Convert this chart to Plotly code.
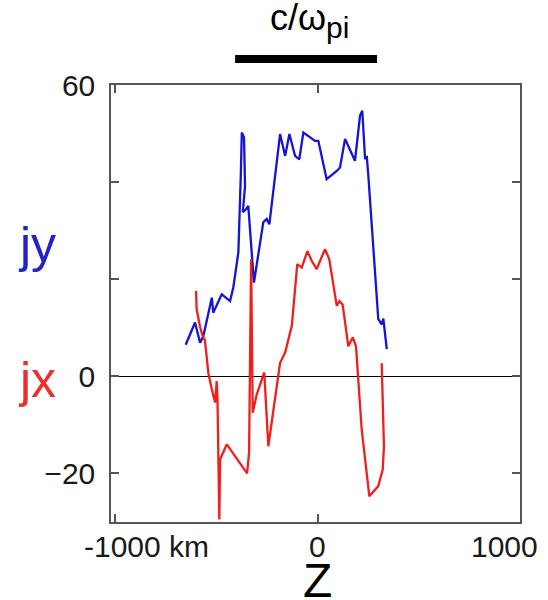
import plotly.graph_objects as go

# Current density profiles across the sheet, position Z in km
z_jy = [-651, -605, -580, -564, -522, -515, -473, -432, -416, -391, -379, -374,
        -363, -358, -369, -353, -342, -314, -268, -251, -238, -185, -160, -139,
        -111, -90, -70, -12, 4, 45, 95, 111, 136, 185, 210, 221, 235, 243, 251,
        300, 317, 325, 342]
jy = [6.5, 11.1, 6.9, 8.3, 16.2, 13.1, 16.9, 15.5, 18.3, 25.5, 41.3, 50.2,
      49.2, 39.2, 33.8, 34.4, 35.1, 19.3, 31.7, 32.4, 31.3, 49.9, 45.4, 49.9,
      45.4, 44.7, 50.2, 48.5, 48.5, 40.6, 42.3, 43.0, 48.9, 44.4, 53.7, 54.7,
      44.7, 45.4, 41.3, 11.8, 10.7, 11.9, 5.6]

z_jx = [-600, -597, -580, -567, -556, -539, -522, -506, -498, -494, -485, -481,
        -448, -348, -338, -332, -328, -320, -300, -263, -243, -185, -160, -127,
        -100, -78, -50, -29, -4, 37, 58, 95, 108, 124, 152, 174, 190, 218, 230,
        256, 300, 322, 328, 317]
jx = [17.6, 13.8, 10.1, 8.3, 7.4, 0.6, -2.7, -5.4, -1.0, -4.7, -29.5, -17.1,
      -14.0, -20.0, -15.7, 3.1, 24.1, -7.5, -3.7, 0.8, -14.4, 2.8, 4.9, 10.4,
      23.1, 22.4, 25.8, 23.8, 22.1, 26.2, 24.1, 14.5, 15.5, 14.8, 6.2, 8.0, 6.2,
      -10.9, -15.1, -24.7, -22.6, -19.2, -14.4, 2.7]

y_ticks = [-20, 0, 60]
y_minor_ticks = [20, 40]
x_ticks = [-1000, 0, 1000]
x_tick_text = ["-1000 km", "0", "1000"]

# Ion inertial length scale bar, in km
scale_bar = [-407, 294]

FONT = "Liberation Sans, Arial, sans-serif"
BLUE = "#1414d2"
RED = "#f01e1e"
AXIS = "#555555"

fig = go.Figure()
fig.add_trace(go.Scatter(x=z_jy, y=jy, mode="lines",
                         line=dict(color=BLUE, width=2.3), showlegend=False))
fig.add_trace(go.Scatter(x=z_jx, y=jx, mode="lines",
                         line=dict(color=RED, width=2.3), showlegend=False))

fig.update_layout(
    width=548, height=600,
    margin=dict(l=111, r=28, t=85, b=78),
    plot_bgcolor="white", paper_bgcolor="white",
    font=dict(family=FONT, color="#1a1a1a", size=29),
    xaxis=dict(range=[-1020, 1000], tickvals=x_ticks, showticklabels=False,
               ticks="inside", ticklen=8, tickcolor=AXIS, tickwidth=1.5,
               showline=True, linecolor=AXIS, linewidth=1.5, mirror="ticks",
               showgrid=False, zeroline=False, automargin=False),
    yaxis=dict(range=[-30, 60], tickvals=y_ticks, automargin=False,
               minor=dict(tickvals=y_minor_ticks, ticks="inside", ticklen=8,
                          tickcolor=AXIS, tickwidth=1.5, showgrid=False),
               ticks="inside", ticklen=8, tickcolor=AXIS, tickwidth=1.5,
               showline=True, linecolor=AXIS, linewidth=1.5, mirror="ticks",
               showgrid=False, zeroline=True, zerolinecolor="#000",
               zerolinewidth=1, ticklabelstandoff=8,
               tickfont=dict(size=30)),
)

# x tick labels
fig.add_annotation(x=x_ticks[0], y=-0.057, xref="x", yref="paper",
                   text=x_tick_text[0], showarrow=False, xanchor="left",
                   yanchor="middle", xshift=-33, font=dict(size=30))
fig.add_annotation(x=x_ticks[1], y=-0.057, xref="x", yref="paper",
                   text=x_tick_text[1], showarrow=False, xanchor="center",
                   yanchor="middle", font=dict(size=30))
fig.add_annotation(x=x_ticks[2], y=-0.057, xref="x", yref="paper",
                   text=x_tick_text[2], showarrow=False, xanchor="right",
                   yanchor="middle", xshift=20, font=dict(size=30))

# x axis title
fig.add_annotation(x=0, y=-0.135, xref="x", yref="paper", text="Z",
                   showarrow=False, xanchor="center", yanchor="middle",
                   font=dict(size=48, color="#000"))

# Series labels
fig.add_annotation(x=-0.181, y=0.634, xref="paper", yref="paper", text="jy",
                   showarrow=False, xanchor="center", yanchor="middle",
                   font=dict(size=50, color="#2222c8"))
fig.add_annotation(x=-0.181, y=0.325, xref="paper", yref="paper", text="jx",
                   showarrow=False, xanchor="center", yanchor="middle",
                   font=dict(size=50, color="#e83232"))

# Scale bar with its label
fig.add_shape(type="rect", xref="x", yref="paper",
              x0=scale_bar[0], x1=scale_bar[1], y0=1.0503, y1=1.0686,
              fillcolor="#000", line=dict(width=0))
fig.add_annotation(x=0.485, y=1.148, xref="paper", yref="paper",
                   text="c/ω<sub><span style='font-size:30px'>pi</span></sub>",
                   showarrow=False, xanchor="center", yanchor="middle",
                   font=dict(size=36, color="#000"))

fig.write_html("out.html")
